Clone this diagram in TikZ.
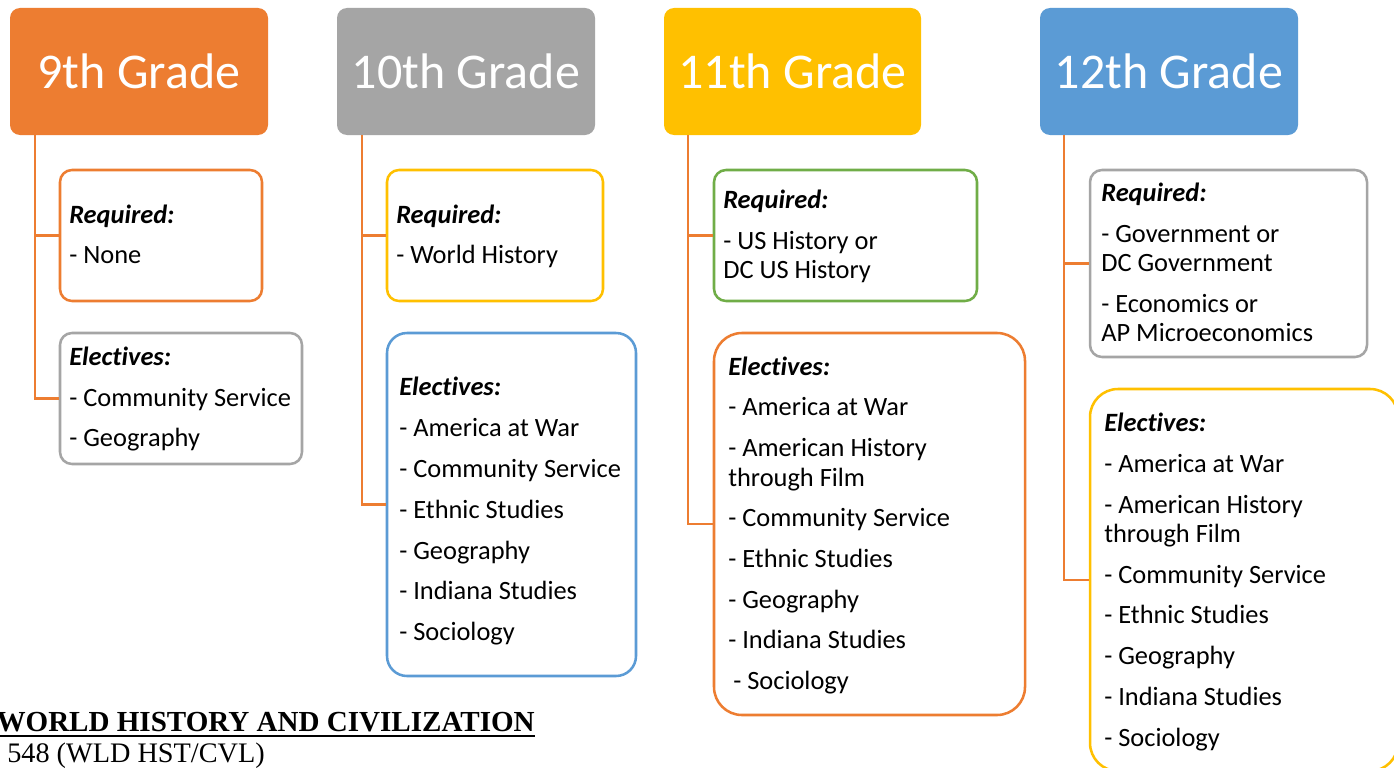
\documentclass[tikz,border=0pt]{standalone}
\usepackage{fontspec}
\setmainfont[Ligatures={NoCommon}]{Carlito}
\newfontfamily\serifbottom{Liberation Serif}
\usetikzlibrary{calc}
\definecolor{cOrange}{HTML}{ED7D31}
\definecolor{cGray}{HTML}{A5A5A5}
\definecolor{cGold}{HTML}{FFC000}
\definecolor{cBlue}{HTML}{5B9BD5}
\definecolor{cGreen}{HTML}{70AD47}
\def\px{0.75pt}
\tikzset{
  header/.style={fill=#1, draw=none, rounded corners=10*\px, text=white,
    font=\fontsize{37.5}{45}\selectfont, minimum width=258*\px, minimum height=127*\px, inner sep=0pt},
  infobox/.style={draw=#1, fill=white, line width=1.9pt, rounded corners=12*\px, inner sep=0pt},
  conn/.style={draw=cOrange, line width=1.9pt},
  itm/.style={anchor=base west, inner sep=0pt, font=\fontsize{19.8}{23}\selectfont},
  hd/.style={itm, font=\fontsize{19.8}{23}\selectfont\bfseries\itshape},
}
\begin{document}
\begin{tikzpicture}[x=0.75pt, y=-0.75pt]
\useasboundingbox (0,0) rectangle (1394,767);
\clip (0,0) rectangle (1394,767);
\fill[white] (0,0) rectangle (1394,767);

% headers
\node[header=cOrange] (h9) at (139,71.5) {9th Grade};
\node[header=cGray] (h10) at (466,71.5) {10th Grade};
\node[header=cGold, minimum width=257*\px] (h11) at (792.5,71.5) {11th Grade};
\node[header=cBlue] (h12) at (1169,71.5) {12th Grade};

% connector start points
\coordinate (t9) at (35,135);
\coordinate (t10) at (362,135);
\coordinate (t11) at (688,135);
\coordinate (t12) at (1064,135);

% boxes
\node[infobox=cOrange, minimum width=202*\px, minimum height=131*\px] (r9) at (161,235.5) {};
\node[infobox=cGray, minimum width=242*\px, minimum height=131*\px] (e9) at (181,398.5) {};
\node[infobox=cGold, minimum width=216*\px, minimum height=131*\px] (r10) at (495,235.5) {};
\node[infobox=cBlue, rounded corners=20*\px, minimum width=249*\px, minimum height=343*\px] (e10) at (511.5,504.5) {};
\node[infobox=cGreen, minimum width=263*\px, minimum height=131*\px] (r11) at (845.5,235.5) {};
\node[infobox=cOrange, rounded corners=28*\px, minimum width=311*\px, minimum height=382*\px] (e11) at (869.5,524) {};
\node[infobox=cGray, minimum width=277*\px, minimum height=187*\px] (r12) at (1228.5,263.5) {};
\node[infobox=cGold, rounded corners=28*\px, minimum width=308*\px, minimum height=382*\px] (e12) at (1244,580) {};

% connectors
\draw[conn] (t9) |- (r9.west);
\draw[conn] (t9) |- (e9.west);
\draw[conn] (t10) |- (r10.west);
\draw[conn] (t10) |- (e10.west);
\draw[conn] (t11) |- (r11.west);
\draw[conn] (t11) |- (e11.west);
\draw[conn] (t12) |- (r12.west);
\draw[conn] (t12) |- (e12.west);

% 9th grade text
\node[hd] (r9a) at (69,223) {Required:};
\node[itm] (r9b) at (69,263) {- None};
\node[hd] (e9a) at (69,365) {Electives:};
\node[itm] (e9b) at (69,406) {- Community Service};
\node[itm] (e9c) at (69,446) {- Geography};

% 10th grade text
\node[hd] (r10a) at (396,223) {Required:};
\node[itm] (r10b) at (396,263) {- World History};
\node[hd] (e10a) at (399,395) {Electives:};
\node[itm] (e10b) at (399,436) {- America at War};
\node[itm] (e10c) at (399,477) {- Community Service};
\node[itm] (e10d) at (399,518) {- Ethnic Studies};
\node[itm] (e10e) at (399,559) {- Geography};
\node[itm] (e10f) at (399,599) {- Indiana Studies};
\node[itm] (e10g) at (399,640) {- Sociology};

% 11th grade text
\node[hd] (r11a) at (723,208) {Required:};
\node[itm] (r11b) at (723,249) {- US History or};
\node[itm] (r11c) at (723,278) {DC US History};
\node[hd] (e11a) at (728,375) {Electives:};
\node[itm] (e11b) at (728,415) {- America at War};
\node[itm] (e11c) at (728,456) {- American History};
\node[itm] (e11d) at (728,486) {through Film};
\node[itm] (e11e) at (728,526) {- Community Service};
\node[itm] (e11f) at (728,567) {- Ethnic Studies};
\node[itm] (e11g) at (728,608) {- Geography};
\node[itm] (e11h) at (728,648) {- Indiana Studies};
\node[itm] (e11i) at (733,689) {- Sociology};

% 12th grade text
\node[hd] (r12a) at (1101,201) {Required:};
\node[itm] (r12b) at (1101,242) {- Government or};
\node[itm] (r12c) at (1101,271) {DC Government};
\node[itm] (r12d) at (1101,312) {- Economics or};
\node[itm] (r12e) at (1101,341) {AP Microeconomics};
\node[hd] (e12a) at (1104,431) {Electives:};
\node[itm] (e12b) at (1104,472) {- America at War};
\node[itm] (e12c) at (1104,513) {- American History};
\node[itm] (e12d) at (1104,542) {through Film};
\node[itm] (e12e) at (1104,583) {- Community Service};
\node[itm] (e12f) at (1104,623) {- Ethnic Studies};
\node[itm] (e12g) at (1104,664) {- Geography};
\node[itm] (e12h) at (1104,705) {- Indiana Studies};
\node[itm] (e12i) at (1104,746) {- Sociology};

% bottom text
\node[anchor=base east, inner sep=0pt, font=\serifbottom\fontsize{21.8}{24}\selectfont\bfseries] (bt1) at (535,731) {WORLD HISTORY AND CIVILIZATION};
\draw[line width=1.3pt] ($(bt1.base west)+(0,5)$) -- ($(bt1.base east)+(0,5)$);
\node[anchor=base west, inner sep=0pt, font=\serifbottom\fontsize{21.2}{24}\selectfont] (bt2) at (7,762) {548 (WLD HST/CVL)};
\end{tikzpicture}
\end{document}
